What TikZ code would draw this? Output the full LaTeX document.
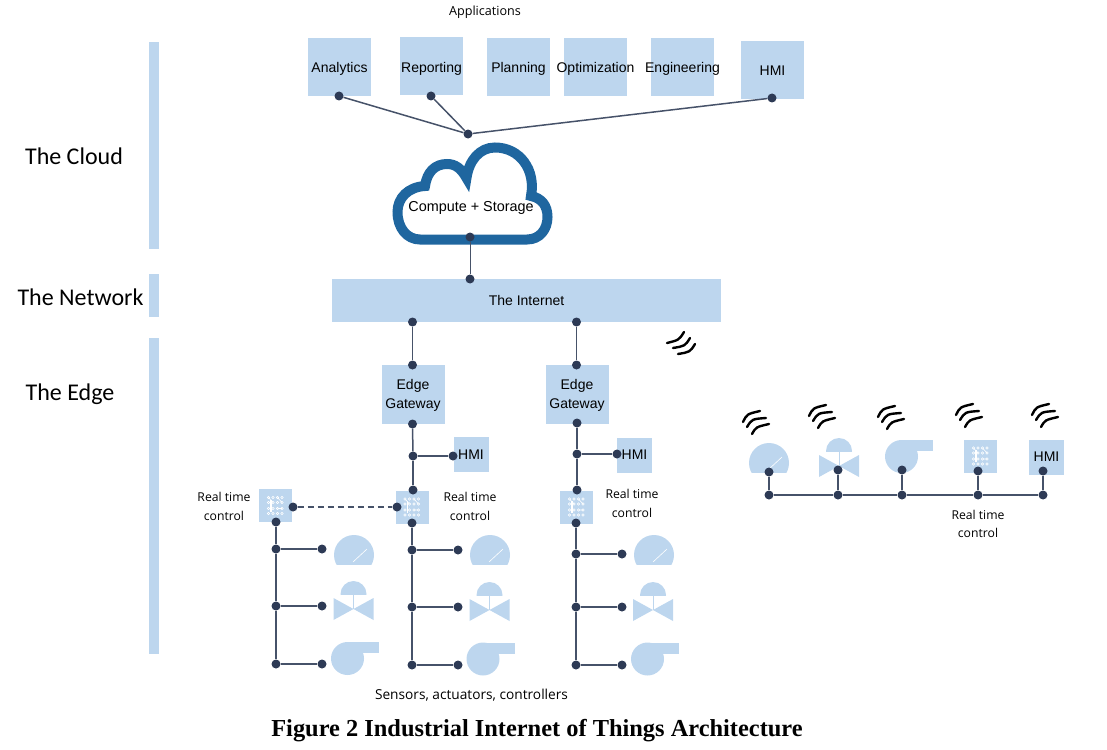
\documentclass[tikz,border=0pt]{standalone}
\usepackage{fontspec}
\setmainfont{Liberation Sans}
\newfontfamily\layerfont{Carlito}
\newfontfamily\notefont{Open Sans}
\newfontfamily\captionfont{Liberation Serif}
\usepackage{xcolor}
\usetikzlibrary{positioning}
\definecolor{boxblue}{HTML}{BDD6EE}
\definecolor{cloudblue}{HTML}{1F669F}
\definecolor{dotblue}{HTML}{2D3A55}
\definecolor{wireblue}{HTML}{465269}
\tikzset{
    bluebox/.style={fill=boxblue, inner sep=0pt, outer sep=0pt, align=center, font=\fontsize{14}{19}\selectfont},
    appbox/.style={fill=boxblue, inner sep=0pt, outer sep=0pt, minimum width=63pt, minimum height=58pt},
    apptext/.style={font=\fontsize{14}{19}\selectfont},
    gatebox/.style={bluebox, minimum width=63pt, minimum height=59pt, text depth=2pt},
    hmibox/.style={bluebox, minimum width=35pt, minimum height=35pt},
    chipbox/.style={bluebox, minimum width=33pt, minimum height=33pt},
    bar/.style={fill=boxblue, minimum width=10pt, inner sep=0pt, outer sep=0pt},
    dotnode/.style={circle, fill=dotblue, inner sep=0pt, minimum size=9pt},
    wire/.style={draw=wireblue, line width=1.5pt},
    layerlabel/.style={font=\layerfont\fontsize{24}{26}\selectfont},
    notelabel/.style={font=\notefont\fontsize{12.2}{18.5}\selectfont, align=center},
    wavemark/.style={draw=black, line width=2.4pt, line cap=round},
    gaugeicon/.pic={
        \begin{scope}
            \clip (-21,-21) rectangle (21,9);
            \fill[boxblue] (0,0) circle (20);
        \end{scope}
        \draw[white, line width=0.6pt] (-1,7) -- (13,-6);
    },
    valveicon/.pic={
        \begin{scope}
            \clip (-14,-15) rectangle (14,0);
            \fill[boxblue] (0,0) circle (13);
        \end{scope}
        \draw[boxblue, line width=0.5pt] (0,0) -- (0,15);
        \fill[boxblue] (-20,4) -- (0,15) -- (-20,26) -- cycle;
        \fill[boxblue] (20,4) -- (0,15) -- (20,26) -- cycle;
    },
    pumpicon/.pic={
        \fill[boxblue] (0,0) circle (16.5);
        \fill[boxblue] (0,-16.5) rectangle (31.5,-5.5);
    },
    chipicon/.pic={
        \foreach \r in {-8,-3,3,8}{
            \foreach \i in {-7,-2.5,2,6.5}{
                \draw[white, line width=0.6pt] (\i,\r) circle (1.2);
            }
        }
        \draw[white, line width=1.2pt] (-4.5,-6) -- (-4.5,6);
        \draw[white, line width=0.6pt] (-7,-8) -- (-2.5,-3) (2,-8) -- (6.5,-3) (2,3) -- (6.5,3);
    },
    wavesicon/.pic={
        \draw[wavemark] (0,0) .. controls (4,-8) .. (17,-11);
        \draw[wavemark] (4,5) .. controls (9,-3) .. (23,-4);
        \draw[wavemark] (9,12) .. controls (13,5) .. (26,2);
    },
    netwaves/.pic={
        \draw[wavemark] (0,0) .. controls (12,-3) .. (17,-11);
        \draw[wavemark] (6,5) .. controls (18,3) .. (23,-5);
        \draw[wavemark] (11,11) .. controls (23,9) .. (28,1);
    },
}

\begin{document}
\begin{tikzpicture}[x=1pt, y=-1pt]
    \useasboundingbox (0,0) rectangle (1107,749);

    % layer bars
    \node[bar, minimum height=207pt] (cloudbar) at (154,145.5) {};
    \node[bar, minimum height=43pt] (netbar) at (154,295.5) {};
    \node[bar, minimum height=316pt] (edgebar) at (154,496) {};
    \node[layerlabel] (cloudlabel) at (74,156.5) {The Cloud};
    \node[layerlabel] (netlabel) at (80.5,297.5) {The Network};
    \node[layerlabel] (edgelabel) at (70,394.5) {The Edge};

    % applications
    \node[notelabel, font=\notefont\fontsize{12.6}{16}\selectfont] (applabel) at (485,12) {Applications};
    \node[appbox] (analytics) at (339.5,67) {};
    \node[appbox] (reporting) at (431.5,66) {};
    \node[appbox] (planning) at (518.5,67) {};
    \node[appbox] (optimization) at (595.5,67) {};
    \node[appbox] (engineering) at (682.5,67) {};
    \node[appbox] (hmitop) at (772.5,70) {};
    \foreach \nm/\txt/\ys in {analytics/Analytics/1.5, reporting/Reporting/2.5, planning/Planning/1.5, optimization/Optimization/1.5, engineering/Engineering/1.5, hmitop/HMI/0.5}{
        \node[apptext, yshift=-\ys pt] (\nm text) at (\nm) {\txt};
    }
    \node[dotnode] (analyticsdot) at (339,96) {};
    \node[dotnode] (reportingdot) at (431,96) {};
    \node[dotnode] (hmitopdot) at (772,98) {};
    \node[dotnode] (hubdot) at (468,134) {};
    \draw[wire] (analyticsdot) -- (hubdot);
    \draw[wire] (reportingdot) -- (hubdot);
    \draw[wire] (hmitopdot) -- (hubdot);

    % cloud
    \draw[cloudblue, fill=white, line width=10pt, line join=miter]
        (420,239.5) -- (527,239.5)
        .. controls (540,239.5) and (547.5,229) .. (547.5,217)
        .. controls (547.5,205) and (541,198) .. (531,196)
        .. controls (536,170) and (520,147.5) .. (495,147.5)
        .. controls (480,147.5) and (469,160) .. (466.5,178)
        .. controls (461,168) and (455,164) .. (447,164)
        .. controls (435,164) and (427,172) .. (425,186)
        .. controls (408,187) and (397.5,198) .. (397.5,212)
        .. controls (397.5,228) and (407,239.5) .. (420,239.5) -- cycle;
    \node[font=\fontsize{14.4}{16}\selectfont] (cloudtext) at (471,207.5) {Compute + Storage};

    % internet
    \node[bluebox, minimum width=389pt, minimum height=43pt] (internet) at (526.5,300.5) {The Internet};
    \node[dotnode] (cloudout) at (470,237) {};
    \node[dotnode] (internetin) at (470,279) {};
    \draw[wire, line width=1pt] (cloudout) -- (internetin);
    \pic at (667,343) {netwaves};

    % the three edge columns
    \node[gatebox] (gateA) at (413,394.5) {Edge\\Gateway};
    \node[gatebox] (gateB) at (577,394.5) {Edge\\Gateway};
    \node[hmibox] (hmiA) at (471,454.5) {HMI};
    \node[hmibox] (hmiB) at (634.5,455) {HMI};
    \node[chipbox] (chipL) at (275.5,505.5) {};
    \node[chipbox] (chipA) at (412,507) {};
    \node[chipbox] (chipB) at (576.5,507) {};
    \pic at (275.5,505.5) {chipicon};
    \pic at (412,507) {chipicon};
    \pic at (576.5,507) {chipicon};

    \foreach \nm/\xa/\ya in {A/412.5/322, B/576.5/322}{
        \node[dotnode] (inet\nm) at (\xa,\ya) {};
        \node[dotnode] (gatein\nm) at (\xa,365) {};
        \draw[wire] (inet\nm) -- (gatein\nm);
    }
    \node[dotnode] (gateoutA) at (412.5,424) {};
    \node[dotnode] (hmijoinA) at (413,456) {};
    \node[dotnode] (hmidotA) at (453,456) {};
    \node[dotnode] (chipinA) at (413,490) {};
    \node[dotnode] (gateoutB) at (577,423) {};
    \node[dotnode] (hmijoinB) at (577,454) {};
    \node[dotnode] (hmidotB) at (617,454) {};
    \node[dotnode] (chipinB) at (577,490) {};
    \foreach \nm in {A,B}{
        \draw[wire] (gateout\nm) -- (hmijoin\nm);
        \draw[wire] (hmijoin\nm) -- (hmidot\nm);
        \draw[wire] (hmijoin\nm) -- (chipin\nm);
    }

    % real time control link
    \node[dotnode] (chipoutL) at (293,507) {};
    \node[dotnode] (chipoutA) at (397,507) {};
    \draw[wire, dashed, dash pattern=on 6pt off 4pt] (chipoutL) -- (chipoutA);
    \node[notelabel] (noteL) at (224,506.5) {Real time\\control};
    \node[notelabel] (noteA) at (470,506.5) {Real time\\control};
    \node[notelabel] (noteB) at (632,503.5) {Real time\\control};

    % field devices, one row per column
    \foreach \nm/\xa/\xb/\ga/\gb/\gc/\yb in {
        L/276/322/549/606/664/522,
        A/412/458/550/607/665/523,
        B/576/622/554/607/665/523}{
        \node[dotnode] (bus\nm) at (\xa,\yb) {};
        \node[dotnode] (gaugejoin\nm) at (\xa,\ga) {};
        \node[dotnode] (valvejoin\nm) at (\xa,\gb) {};
        \node[dotnode] (pumpjoin\nm) at (\xa,\gc) {};
        \node[dotnode] (gaugedot\nm) at (\xb,\ga) {};
        \node[dotnode] (valvedot\nm) at (\xb,\gb) {};
        \node[dotnode] (pumpdot\nm) at (\xb,\gc) {};
        \draw[wire] (bus\nm) -- (gaugejoin\nm);
        \draw[wire] (gaugejoin\nm) -- (valvejoin\nm);
        \draw[wire] (valvejoin\nm) -- (pumpjoin\nm);
        \draw[wire] (gaugejoin\nm) -- (gaugedot\nm);
        \draw[wire] (valvejoin\nm) -- (valvedot\nm);
        \draw[wire] (pumpjoin\nm) -- (pumpdot\nm);
    }
    \foreach \xg/\yg/\xv/\yv/\xp/\yp in {
        354/555/353.5/594/347.5/658.5,
        490/555/489.5/595/483/659,
        654/555/653/595/647.5/659}{
        \pic at (\xg,\yg) {gaugeicon};
        \pic at (\xv,\yv) {valveicon};
        \pic at (\xp,\yp) {pumpicon};
    }
    \node[notelabel, font=\notefont\fontsize{13.7}{16}\selectfont] (sensorlabel) at (471.5,695.5) {Sensors, actuators, controllers};

    % wireless group on the right
    \pic at (769,463) {gaugeicon};
    \pic at (839,451) {valveicon};
    \pic at (901.5,456.5) {pumpicon};
    \node[chipbox] (chipR) at (980.5,456) {};
    \pic at (980.5,456) {chipicon};
    \node[hmibox] (hmiR) at (1046.5,457) {HMI};
    \foreach \nm/\xa/\ya in {a/769/472, b/838/470, c/902/470, d/978/471, e/1043/471}{
        \node[dotnode] (field\nm) at (\xa,\ya) {};
        \node[dotnode] (line\nm) at (\xa,495) {};
        \draw[wire] (field\nm) -- (line\nm);
    }
    \draw[wire] (linea) -- (lineb);
    \draw[wire] (lineb) -- (linec);
    \draw[wire] (linec) -- (lined);
    \draw[wire] (lined) -- (linee);
    \node[notelabel] (noteR) at (978,524) {Real time\\control};
    \foreach \xa/\ya in {743/422, 809/416, 878/417, 956/415, 1032/415}{
        \pic at (\xa,\ya) {wavesicon};
    }

    % caption
    \node[font=\captionfont\bfseries\fontsize{24.4}{26}\selectfont] (caption) at (537,730.5) {Figure 2 Industrial Internet of Things Architecture};
\end{tikzpicture}
\end{document}
